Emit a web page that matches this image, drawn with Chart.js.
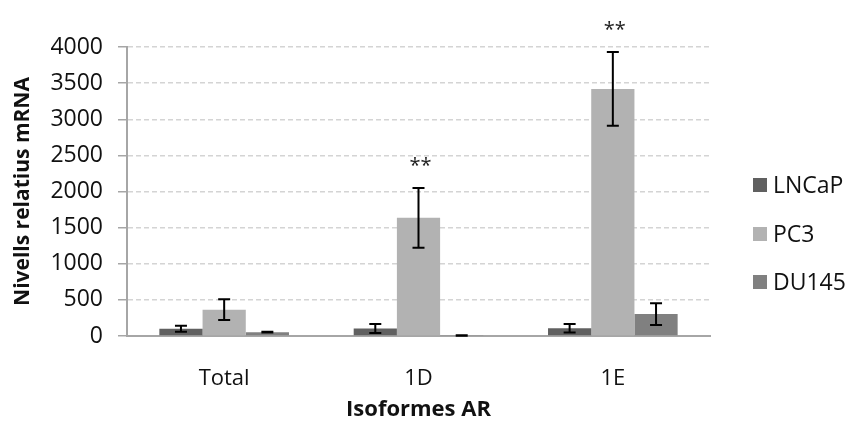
<!DOCTYPE html>
<html>
<head>
<meta charset="utf-8">
<script src="https://cdn.jsdelivr.net/npm/chart.js@4/dist/chart.umd.min.js"></script>
<style>
  html, body { margin: 0; padding: 0; background: #fff; }
  #wrap { width: 848px; height: 421px; }
</style>
</head>
<body>
<div id="wrap"><canvas id="isoChart"></canvas></div>
<script>
const FONT = "'Open Sans', 'Liberation Sans', sans-serif";

// data
const categories = ['Total', '1D', '1E'];
const lncapValues = [100, 105, 108];
const lncapErrors = [42, 62, 58];
const pc3Values = [365, 1635, 3420];
const pc3Errors = [145, 412, 510];
const du145Values = [53, 6, 303];
const du145Errors = [5, 3, 150];
const pc3Signif = ['', '**', '**'];
const yTicks = [0, 500, 1000, 1500, 2000, 2500, 3000, 3500, 4000];

const seriesColors = ['#606060', '#b2b2b2', '#808080'];

// error bars + significance stars
const errorBars = {
  id: 'errorBars',
  afterDatasetsDraw(chart) {
    const ctx = chart.ctx;
    const y = chart.scales.y;
    ctx.save();
    ctx.strokeStyle = '#000';
    ctx.lineWidth = 2;
    chart.data.datasets.forEach((ds, i) => {
      const meta = chart.getDatasetMeta(i);
      meta.data.forEach((bar, j) => {
        const v = ds.data[j];
        const e = ds.errors[j];
        const top = y.getPixelForValue(v + e);
        const bot = y.getPixelForValue(v - e);
        ctx.beginPath();
        ctx.moveTo(bar.x, top); ctx.lineTo(bar.x, bot);
        ctx.moveTo(bar.x - 6, top); ctx.lineTo(bar.x + 6, top);
        ctx.moveTo(bar.x - 6, bot); ctx.lineTo(bar.x + 6, bot);
        ctx.stroke();
        if (ds.signif && ds.signif[j]) {
          ctx.fillStyle = '#222';
          ctx.font = '20px ' + FONT;
          ctx.textAlign = 'center';
          ctx.textBaseline = 'middle';
          ctx.fillText(ds.signif[j], bar.x + 2, top - 22);
        }
      });
    });
    ctx.restore();
  }
};

// legend on the right
const sideLegend = {
  id: 'sideLegend',
  afterDraw(chart) {
    const ctx = chart.ctx;
    const rows = [185, 234, 282];
    ctx.save();
    ctx.font = '23px ' + FONT;
    ctx.textBaseline = 'middle';
    ctx.textAlign = 'left';
    chart.data.datasets.forEach((ds, i) => {
      ctx.fillStyle = ds.backgroundColor;
      ctx.fillRect(753, rows[i] - 7, 14, 14);
      ctx.fillStyle = '#111';
      ctx.fillText(ds.label, 773, rows[i] + 1);
    });
    ctx.restore();
  }
};

new Chart(document.getElementById('isoChart'), {
  type: 'bar',
  data: {
    labels: categories,
    datasets: [
      { label: 'LNCaP', data: lncapValues, errors: lncapErrors, backgroundColor: seriesColors[0] },
      { label: 'PC3', data: pc3Values, errors: pc3Errors, signif: pc3Signif, backgroundColor: seriesColors[1] },
      { label: 'DU145', data: du145Values, errors: du145Errors, backgroundColor: seriesColors[2] },
    ],
  },
  options: {
    responsive: true,
    maintainAspectRatio: false,
    animation: false,
    layout: { padding: { top: 47, right: 138, left: 0, bottom: 0 } },
    datasets: { bar: { categoryPercentage: 0.667, barPercentage: 1.0 } },
    plugins: { legend: { display: false }, tooltip: { enabled: false } },
    scales: {
      x: {
        grid: { display: false },
        border: { display: true, color: '#a6a6a6', width: 2 },
        ticks: { color: '#111', font: { family: FONT, size: 22 }, padding: 22 },
        title: {
          display: true, text: 'Isoformes AR', color: '#111',
          font: { family: FONT, size: 22, weight: 'bold', lineHeight: 1 },
          padding: { top: 0, bottom: 0 },
        },
        afterFit(scale) { scale.height = 421 - 336; },
      },
      y: {
        min: 0,
        max: 4000,
        afterBuildTicks(scale) { scale.ticks = yTicks.map(v => ({ value: v })); },
        grid: {
          color: '#d4d4d4',
          lineWidth: 1.5,
          tickLength: 9,
          tickColor: '#a6a6a6',
          tickBorderDash: [],
          tickWidth: 1.5,
        },
        border: { display: true, color: '#a6a6a6', width: 2, dash: [5, 3] },
        ticks: {
          color: '#111',
          font: { family: FONT, size: 23 },
          padding: 15,
          callback: v => String(v),
        },
        title: {
          display: true, text: 'Nivells relatius mRNA', color: '#111',
          font: { family: FONT, size: 21, weight: 'bold', lineHeight: 1.2 },
          padding: { top: 10, bottom: 0 },
        },
        afterFit(scale) { scale.width = 127; },
      },
    },
  },
  plugins: [errorBars, sideLegend],
});
</script>
</body>
</html>
